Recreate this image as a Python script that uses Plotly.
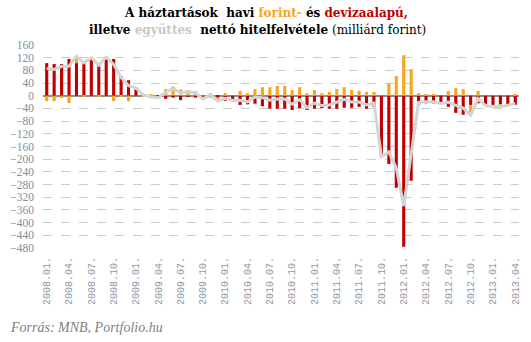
import plotly.graph_objects as go

# Months 2008.01 .. 2013.04
months = [f"{y}.{m:02d}." for y in range(2008, 2014) for m in range(1, 13)][:64]
tick_labels = months[::3]

# forint-based net borrowing (billion HUF)
forint = [-17, -17, -7, -23, 22, -4, 2, -4, 9, -17, -4, -17, 5,
          -4, 4, 0, 21, 29, 20, 17, 15, 0, 8, -11, 8, 0,
          15, 8, 21, 27, 27, 31, 31, 18, 27, 8, 18, 8, 12,
          21, 27, 18, 15, 12, 12, 0, 38, 62, 128, 84,
          8, 5, 5, 0, 15, 24, 21, -32, 15, -5, 0, -6, -4, 5]
# foreign-currency-based net borrowing
deviza = [103, 100, 100, 116, 103, 108, 118, 100, 115, 116, 61, 49, 20,
          6, -7, -6, -10, -6, -14, -4, -6, -10, -5, -6, -16, -15,
          -29, -27, -25, -33, -41, -41, -41, -45, -39, -45, -41, -39, -41,
          -41, -38, -38, -35, -41, -35, -192, -215, -290, -476, -268,
          -29, -24, -24, -24, -35, -54, -60, -29, -24, -27, -33, -29, -26, -29]
# combined net borrowing (line)
egyuttes = [86, 83, 93, 93, 125, 104, 120, 96, 122, 99, 57, 32, 25,
            2, -3, -6, 11, 23, 8, 13, 9, -10, 3, -17, -8, -15,
            -14, -19, -4, -6, -14, -10, -10, -27, -12, -37, -23, -31, -29,
            -20, -11, -20, -20, -29, -23, -192, -177, -228, -348, -184,
            -21, -19, -19, -24, -20, -30, -39, -61, -9, -32, -33, -35, -30, -24]

y_ticks = list(range(-480, 161, 40))

fig = go.Figure()
fig.add_trace(go.Bar(x=months, y=deviza, marker_color="#c00000", width=0.42,
                     name="deviza", marker_line_width=0))
fig.add_trace(go.Bar(x=months, y=forint, marker_color="#f8a51e", width=0.42,
                     name="forint", marker_line_width=0))
fig.add_trace(go.Scatter(x=months, y=egyuttes, mode="lines",
                         line=dict(color="#d4d4d4", width=3), name="együttes"))

fig.update_layout(
    width=531, height=342,
    margin=dict(l=43, r=9, t=45, b=94),
    barmode="relative",
    plot_bgcolor="white", paper_bgcolor="white",
    showlegend=False,
    xaxis=dict(type="category", range=[-0.5, 63.5],
               tickmode="array", tickvals=tick_labels, ticktext=tick_labels,
               tickangle=-90, showgrid=False, zeroline=False, showline=False,
               ticks="", ticklen=0, ticklabelstandoff=6,
               tickfont=dict(family="Liberation Mono", size=10, color="#9494a4")),
    yaxis=dict(range=[-480, 160], tickvals=y_ticks, showgrid=True,
               gridcolor="#cccccc", griddash="dash", gridwidth=1,
               zeroline=True, zerolinecolor="#8c8c8c", zerolinewidth=2,
               showline=False, ticks="", ticklabelstandoff=8,
               tickfont=dict(family="Liberation Serif", size=11.5, color="#8a8a9a")),
    annotations=[
        dict(text="<b>A háztartások  havi <span style='color:#f8a51e'>forint-</span> és "
                  "<span style='color:#c00000'>devizaalapú,</span></b>",
             x=0.5, xref="paper", xanchor="center", y=13, yref="paper",
             showarrow=False, font=dict(family="DejaVu Serif", size=12, color="#000000")),
        dict(text="<b>illetve <span style='color:#c8c8c8'>együttes</span>  nettó hitelfelvétele</b> (milliárd forint)",
             x=0.5, xref="paper", xanchor="center", y=13, yref="paper",
             showarrow=False, font=dict(family="DejaVu Serif", size=12, color="#000000")),
        dict(text="<i>Forrás: MNB, Portfolio.hu</i>", x=8, y=327, showarrow=False,
             font=dict(family="Liberation Serif", size=14, color="#808080")),
    ],
)

# place annotations in pixel coordinates via paper fractions
plot_w = 531 - 43 - 9
plot_h = 342 - 45 - 94
def px_to_paper(px, py):
    return (px - 43) / plot_w, 1 - (py - 45) / plot_h

ann = list(fig.layout.annotations)
x0, y0 = px_to_paper(267, 13)
ann[0].update(x=x0, y=y0, yanchor="middle")
x1, y1 = px_to_paper(259, 30)
ann[1].update(x=x1, y=y1, yanchor="middle")
x2, y2 = px_to_paper(8, 327)
ann[2].update(x=x2, y=y2, xref="paper", yref="paper", xanchor="left", yanchor="middle")
fig.layout.annotations = ann

fig.write_html("out.html")
